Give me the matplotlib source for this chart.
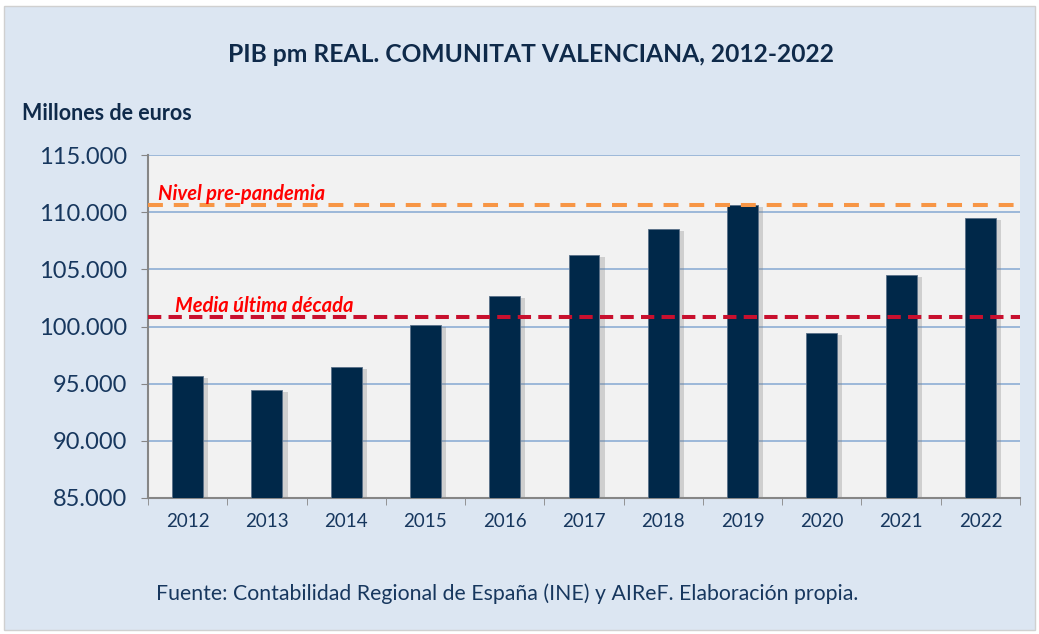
import matplotlib.pyplot as plt
from matplotlib.patches import Rectangle
from matplotlib.ticker import FuncFormatter, FixedLocator

years = ['2012', '2013', '2014', '2015', '2016', '2017', '2018', '2019', '2020', '2021', '2022']
pib = [95700, 94450, 96450, 100130, 102670, 106250, 108530, 110630, 99430, 104500, 109490]
pre_pandemia = 110600
media_decada = 100800

plt.rcParams['font.family'] = ['Lato', 'DejaVu Sans']
navy = '#0f2a4a'
txt = '#17375e'

fig = plt.figure(figsize=(10.39, 6.34), dpi=100)
fig.patch.set_facecolor('white')
fig.add_artist(Rectangle((0.004, 0.006), 0.992, 0.984, transform=fig.transFigure,
                         facecolor='#dce6f2', edgecolor='#d0d0d0', lw=1, zorder=-1))

ax = fig.add_axes([148/1039, 1 - 498/634, (1020-148)/1039, (498-155)/634])
ax.set_facecolor('#f2f2f2')

x = list(range(len(years)))
base = 85000
# soft shadow behind the bars
ax.bar([i + 0.05 for i in x], [v - base - 200 for v in pib], width=0.42, bottom=base,
       color='#7f7f7f', alpha=0.3, zorder=2, linewidth=0)
ax.bar(x, [v - base for v in pib], width=0.39, bottom=base, color='#002849',
       edgecolor='#5a7088', linewidth=0.6, zorder=3)

ax.axhline(pre_pandemia, color='#f79646', lw=2.9, dashes=(3.7, 2.7), zorder=4)
ax.axhline(media_decada, color='#c8102e', lw=2.9, dashes=(3.3, 1.8), zorder=4)
ax.text(-0.37, pre_pandemia + 100, 'Nivel pre-pandemia', color='#ff0000', fontsize=14.5,
        fontweight='bold', style='italic', va='bottom', ha='left', zorder=5)
ax.text(-0.16, media_decada + 150, 'Media última década', color='#ff0000', fontsize=14.5,
        fontweight='bold', style='italic', va='bottom', ha='left', zorder=5)

ax.set_xlim(-0.5, len(years) - 0.5)
ax.set_ylim(85000, 115000)
ax.set_yticks(range(85000, 115001, 5000))
ax.yaxis.set_major_formatter(FuncFormatter(lambda v, p: f'{int(v):,}'.replace(',', '.')))
ax.grid(axis='y', color='#95b3d7', lw=1.3, zorder=1)
ax.set_axisbelow(True)

ax.set_xticks(x)
ax.set_xticklabels(years)
ax.xaxis.set_minor_locator(FixedLocator([i - 0.5 for i in range(len(years) + 1)]))
ax.tick_params(axis='x', which='major', length=0, pad=11, labelsize=13.5, labelcolor=txt)
ax.tick_params(axis='x', which='minor', length=5, color='#868686', direction='out')
ax.tick_params(axis='y', length=5, color='#868686', labelsize=17, labelcolor=txt, pad=10)

for s in ['top', 'right']:
    ax.spines[s].set_visible(False)
for s in ['left', 'bottom']:
    ax.spines[s].set_color('#868686')
    ax.spines[s].set_linewidth(1.5)

fig.text(531/1039, 1 - 55/634, 'PIB pm REAL. COMUNITAT VALENCIANA, 2012-2022',
         ha='center', va='center', fontsize=17.7, fontweight='bold', color=navy)
fig.text(22/1039, 1 - 113/634, 'Millones de euros', ha='left', va='center',
         fontsize=15.5, fontweight='bold', color=navy)
fig.text(507/1039, 1 - 594/634,
         'Fuente: Contabilidad Regional de España (INE) y AIReF. Elaboración propia.',
         ha='center', va='center', fontsize=15.3, color=txt)

fig.savefig('out.png', dpi=100)
